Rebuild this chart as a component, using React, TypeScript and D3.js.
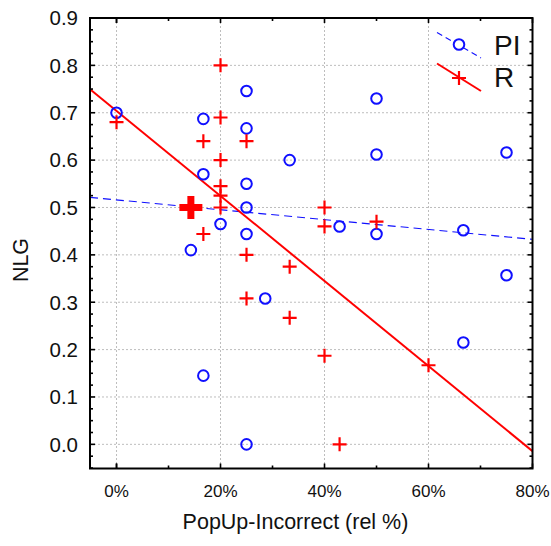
import { useEffect, useRef } from "react";
import * as d3 from "d3";

// PI group (blue circles): [PopUp-Incorrect %, NLG]
const piX = [0, 16.7, 25, 25, 16.7, 25, 25, 20, 25, 14.3, 16.7, 25, 28.6, 33.3, 42.9, 50, 50, 50, 66.7, 66.7, 75, 75];
const piY = [0.70, 0.687, 0.746, 0.667, 0.57, 0.55, 0.50, 0.465, 0.444, 0.41, 0.145, 0.0, 0.308, 0.60, 0.46, 0.73, 0.612, 0.444, 0.452, 0.215, 0.616, 0.357];

// R group (red crosses)
const rX = [0, 20, 20, 16.7, 25, 20, 20, 20, 20, 16.7, 25, 25, 33.3, 33.3, 40, 40, 50, 40, 60, 42.9];
const rY = [0.68, 0.80, 0.69, 0.64, 0.64, 0.60, 0.545, 0.525, 0.50, 0.444, 0.40, 0.308, 0.375, 0.267, 0.50, 0.46, 0.47, 0.187, 0.167, 0.0];
// overlapping R points shown as one heavy cross
const rHeavyX = [14.3];
const rHeavyY = [0.50];

// linear fits [intercept, slope per %]
const piFit = [0.516, -0.00104];
const rFit = [0.704, -0.00898];

const xTicks = [0, 20, 40, 60, 80];
const xMinor = [-0, 10, 30, 50, 70];
const yTicks = [0, 0.1, 0.2, 0.3, 0.4, 0.5, 0.6, 0.7, 0.8, 0.9];
const yMinorStep = 0.025;

const legendNames = ["PI", "R"];

const W = 551, H = 546;
const BLUE = "#1010ff", RED = "#ff0000";

export default function App() {
    const svgRef = useRef<SVGSVGElement>(null);

    useEffect(() => {
        const svg = d3.select(svgRef.current);
        svg.selectAll("*").remove();

        const left = 90, right = 532.5, top = 18, bottom = 468.5;
        const x = d3.scaleLinear().domain([-5.1, 80]).range([left, right]);
        const y = d3.scaleLinear().domain([-0.051, 0.9]).range([bottom, top]);
        const font = "'Liberation Sans', Arial, sans-serif";

        svg.append("rect").attr("width", W).attr("height", H).attr("fill", "#fff");

        // grid
        const grid = svg.append("g").attr("stroke", "#bdbdbd").attr("stroke-width", 1).attr("stroke-dasharray", "2,2");
        grid.selectAll("line.gx").data(xTicks.filter(d => d < 80)).join("line")
            .attr("x1", d => x(d)).attr("x2", d => x(d)).attr("y1", top).attr("y2", bottom);
        grid.selectAll("line.gy").data(yTicks.filter(d => d < 0.9)).join("line")
            .attr("class", "gy")
            .attr("y1", d => y(d)).attr("y2", d => y(d)).attr("x1", left).attr("x2", right);

        const defs = svg.append("defs");
        defs.append("clipPath").attr("id", "plotclip").append("rect")
            .attr("x", left).attr("y", top).attr("width", right - left).attr("height", bottom - top);

        const plot = svg.append("g").attr("clip-path", "url(#plotclip)");

        // fit lines
        const [x0, x1] = x.domain();
        const fitLine = (f: number[]) => d3.line<number>().x(d => x(d)).y(d => y(f[0] + f[1] * d))([x0, x1]);
        plot.append("path").attr("d", fitLine(piFit)).attr("fill", "none")
            .attr("stroke", BLUE).attr("stroke-width", 1.1).attr("stroke-dasharray", "8,5");
        plot.append("path").attr("d", fitLine(rFit)).attr("fill", "none")
            .attr("stroke", RED).attr("stroke-width", 2);

        // points
        const crossPath = (cx: number, cy: number, s: number) =>
            `M${cx - s},${cy}H${cx + s}M${cx},${cy - s}V${cy + s}`;

        plot.selectAll("circle.pi").data(piX.map((d, i) => [d, piY[i]])).join("circle")
            .attr("class", "pi")
            .attr("cx", d => x(d[0])).attr("cy", d => y(d[1])).attr("r", 5.3)
            .attr("fill", "none").attr("stroke", BLUE).attr("stroke-width", 2);

        plot.selectAll("path.r").data(rX.map((d, i) => [d, rY[i]])).join("path")
            .attr("class", "r")
            .attr("d", d => crossPath(x(d[0]), y(d[1]), 7))
            .attr("stroke", RED).attr("stroke-width", 2.2);

        plot.selectAll("path.rh").data(rHeavyX.map((d, i) => [d, rHeavyY[i]])).join("path")
            .attr("class", "rh")
            .attr("d", d => crossPath(x(d[0]), y(d[1]), 11.5))
            .attr("stroke", RED).attr("stroke-width", 7);

        // frame
        svg.append("rect").attr("x", left).attr("y", top).attr("width", right - left).attr("height", bottom - top)
            .attr("fill", "none").attr("stroke", "#000").attr("stroke-width", 2);

        // ticks (inward)
        const tk = svg.append("g").attr("stroke", "#000").attr("stroke-width", 1.6);
        const yMinor = d3.range(Math.ceil(-0.05 / yMinorStep) * yMinorStep, 0.9 + 1e-9, yMinorStep);
        const isMajorY = (v: number) => Math.abs(v * 10 - Math.round(v * 10)) < 1e-6;
        yMinor.forEach(v => {
            const len = isMajorY(v) ? 5 : 3;
            tk.append("line").attr("x1", left).attr("x2", left + len).attr("y1", y(v)).attr("y2", y(v));
            tk.append("line").attr("x1", right).attr("x2", right - len).attr("y1", y(v)).attr("y2", y(v));
        });
        xTicks.concat(xMinor).forEach(v => {
            const len = xTicks.includes(v) ? 5 : 3;
            tk.append("line").attr("x1", x(v)).attr("x2", x(v)).attr("y1", bottom).attr("y2", bottom - len);
            tk.append("line").attr("x1", x(v)).attr("x2", x(v)).attr("y1", top).attr("y2", top + len);
        });

        // tick labels
        svg.append("g").selectAll("text").data(yTicks).join("text")
            .attr("x", 78).attr("y", d => y(d)).attr("dy", "0.36em")
            .attr("text-anchor", "end").attr("font-family", font).attr("font-size", 20.5).attr("fill", "#111")
            .text(d => d3.format(".1f")(d));

        svg.append("g").selectAll("text").data(xTicks).join("text")
            .attr("x", d => x(d)).attr("y", 497)
            .attr("text-anchor", "middle").attr("font-family", font).attr("font-size", 17).attr("fill", "#111")
            .text(d => `${d}%`);

        // axis titles
        svg.append("text")
            .attr("transform", "translate(28,260) rotate(-90)")
            .attr("text-anchor", "middle").attr("font-family", font).attr("font-size", 21.5).attr("fill", "#111")
            .text("NLG");
        svg.append("text")
            .attr("x", 295.5).attr("y", 529)
            .attr("text-anchor", "middle").attr("font-family", font).attr("font-size", 21.5).attr("fill", "#111")
            .text("PopUp-Incorrect (rel %)");

        // legend
        const lg = svg.append("g");
        lg.append("line").attr("x1", 437).attr("y1", 32.5).attr("x2", 481).attr("y2", 58)
            .attr("stroke", BLUE).attr("stroke-width", 1.1).attr("stroke-dasharray", "6,4");
        lg.append("circle").attr("cx", 459).attr("cy", 44.5).attr("r", 5.3)
            .attr("fill", "#fff").attr("stroke", BLUE).attr("stroke-width", 2);
        lg.append("line").attr("x1", 437).attr("y1", 63.5).attr("x2", 481).attr("y2", 91)
            .attr("stroke", RED).attr("stroke-width", 2);
        lg.append("path").attr("d", crossPath(459, 78, 7)).attr("stroke", RED).attr("stroke-width", 2.2);
        lg.selectAll("text").data(legendNames).join("text")
            .attr("x", 494).attr("y", (_, i) => 55 + i * 32)
            .attr("font-family", font).attr("font-size", 28).attr("fill", "#111")
            .text(d => d);
    }, []);

    return (
        <svg ref={svgRef} width={W} height={H}
            style={{ position: "absolute", left: 0, top: 0, background: "#fff" }} />
    );
}
